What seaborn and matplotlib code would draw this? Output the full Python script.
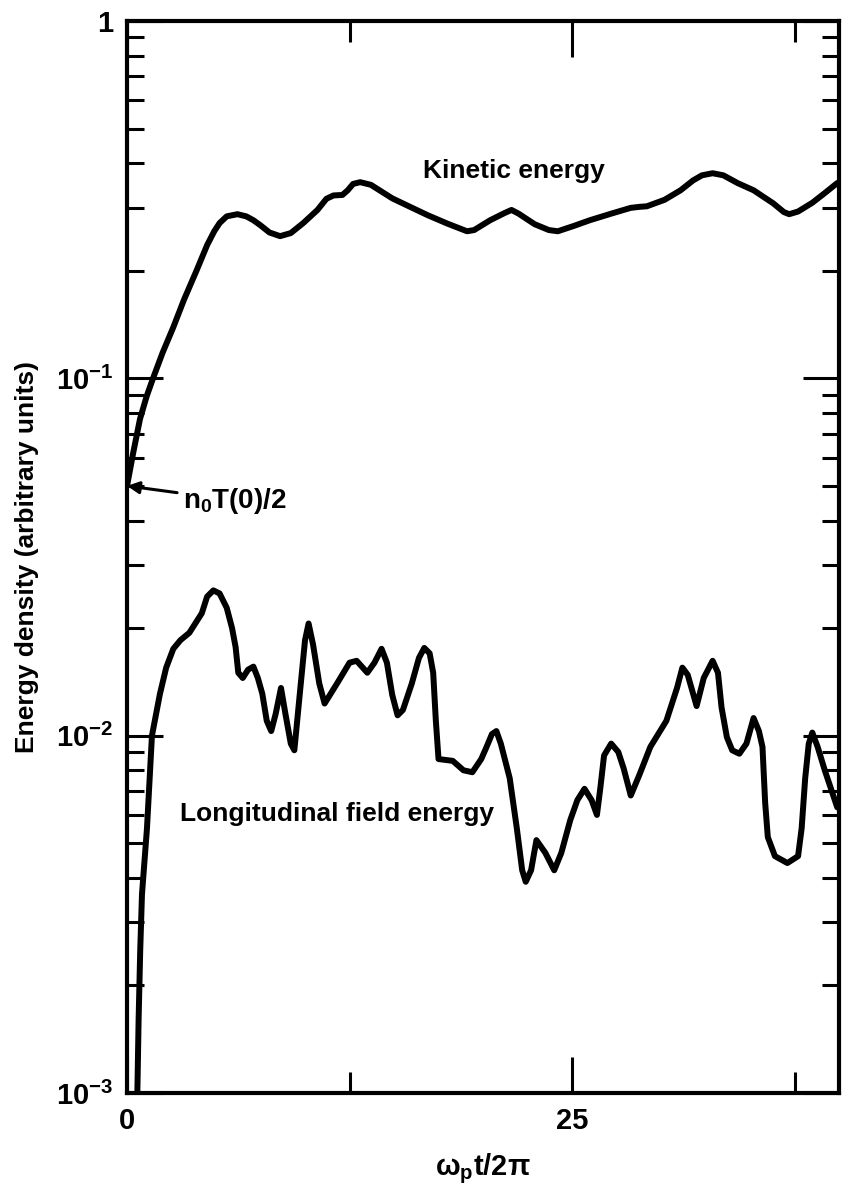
import numpy as np
import pandas as pd
import matplotlib
matplotlib.use("Agg")
import matplotlib.pyplot as plt
import seaborn as sns
from matplotlib.ticker import FixedLocator, NullFormatter, LogLocator

# Kinetic energy density vs. omega_p t / 2 pi
kin_t = [0.0, 0.35, 0.73, 1.1, 1.46, 2.0, 2.6, 3.2, 3.9, 4.5, 4.9, 5.2, 5.6, 6.2,
         6.7, 7.1, 7.5, 8.0, 8.6, 9.2, 9.9, 10.7, 11.2, 11.6, 12.1, 12.4, 12.7,
         13.1, 13.7, 14.9, 15.9, 16.9, 18.0, 19.1, 19.5, 20.4, 21.2, 21.6, 22.0,
         22.9, 23.7, 24.2, 25.1, 26.0, 27.2, 28.3, 28.8, 29.2, 30.2, 31.1, 31.8,
         32.3, 32.9, 33.5, 34.3, 35.2, 36.3, 36.9, 37.2, 37.7, 38.5, 39.2, 39.9]
kin_e = [0.050, 0.062, 0.077, 0.089, 0.100, 0.118, 0.139, 0.166, 0.200, 0.236,
         0.258, 0.272, 0.284, 0.288, 0.284, 0.277, 0.268, 0.256, 0.250, 0.255,
         0.272, 0.296, 0.318, 0.325, 0.326, 0.336, 0.350, 0.354, 0.348, 0.319,
         0.302, 0.286, 0.271, 0.258, 0.260, 0.277, 0.290, 0.296, 0.289, 0.270,
         0.260, 0.258, 0.267, 0.277, 0.289, 0.300, 0.302, 0.303, 0.316, 0.336,
         0.358, 0.370, 0.375, 0.370, 0.352, 0.336, 0.309, 0.292, 0.288, 0.293,
         0.310, 0.330, 0.352]

# Longitudinal field energy density vs. omega_p t / 2 pi
fld_t = [0.50, 0.58, 0.65, 0.74, 0.84, 1.12, 1.4, 1.85, 2.2, 2.6, 3.0, 3.5, 4.2,
         4.5, 4.85, 5.2, 5.6, 5.9, 6.1, 6.25, 6.5, 6.8, 7.1, 7.35, 7.6, 7.85,
         8.1, 8.35, 8.65, 8.9, 9.2, 9.4, 9.7, 10.0, 10.2, 10.45, 10.8, 11.1,
         11.8, 12.5, 12.9, 13.5, 13.9, 14.3, 14.6, 14.9, 15.2, 15.5, 16.0, 16.4,
         16.7, 17.0, 17.2, 17.35, 17.5, 18.3, 18.9, 19.4, 19.9, 20.2, 20.5,
         20.75, 21.0, 21.5, 21.9, 22.2, 22.4, 22.7, 23.0, 23.5, 24.0, 24.4,
         24.9, 25.3, 25.7, 26.1, 26.4, 26.6, 26.8, 27.2, 27.6, 27.9, 28.3,
         28.8, 29.4, 30.3, 30.9, 31.2, 31.5, 32.0, 32.4, 32.9, 33.2, 33.4,
         33.7, 34.0, 34.4, 34.8, 35.2, 35.5, 35.7, 35.85, 36.0, 36.4, 37.1,
         37.7, 37.9, 38.1, 38.3, 38.5, 38.8, 39.2, 39.9]
fld_e = [0.0007, 0.0010, 0.0016, 0.0025, 0.0036, 0.0055, 0.0100, 0.0131, 0.0155,
         0.0175, 0.0185, 0.0194, 0.0220, 0.0245, 0.0255, 0.0250, 0.0228, 0.0200,
         0.0177, 0.0150, 0.0145, 0.0153, 0.0156, 0.0145, 0.0131, 0.0110, 0.0103,
         0.0115, 0.0136, 0.0115, 0.0095, 0.0091, 0.0130, 0.0185, 0.0206, 0.0180,
         0.0140, 0.0123, 0.0140, 0.0160, 0.0162, 0.0150, 0.0160, 0.0175, 0.0160,
         0.0130, 0.0114, 0.0118, 0.0140, 0.0165, 0.0176, 0.0170, 0.0150, 0.0110,
         0.0086, 0.0085, 0.0080, 0.0079, 0.0086, 0.0093, 0.0101, 0.0103, 0.0095,
         0.0076, 0.0055, 0.0042, 0.0039, 0.0042, 0.0051, 0.0047, 0.0042, 0.0047,
         0.0058, 0.0066, 0.0071, 0.0066, 0.0060, 0.0072, 0.0088, 0.0095, 0.0090,
         0.0081, 0.0068, 0.0078, 0.0093, 0.0110, 0.0136, 0.0155, 0.0148, 0.0121,
         0.0145, 0.0162, 0.0150, 0.0120, 0.0099, 0.0091, 0.0089, 0.0095, 0.0112,
         0.0103, 0.0093, 0.0065, 0.0052, 0.0046, 0.0044, 0.0046, 0.0055, 0.0076,
         0.0095, 0.0102, 0.0093, 0.0080, 0.0063]

y_tick_vals = [1e-3, 1e-2, 1e-1, 1]
y_tick_labels = [r"$10^{-3}$", r"$10^{-2}$", r"$10^{-1}$", "1"]
x_major = [0, 25]
x_minor = [12.5, 37.5]

sns.set_theme(style="ticks")
plt.rcParams["font.family"] = ["Liberation Sans", "DejaVu Sans"]
plt.rcParams["font.weight"] = "bold"
plt.rcParams["text.color"] = "black"
plt.rcParams["axes.labelcolor"] = "black"
plt.rcParams["axes.labelweight"] = "bold"
plt.rcParams["mathtext.fontset"] = "custom"
plt.rcParams["mathtext.rm"] = "Liberation Sans:bold"
plt.rcParams["mathtext.it"] = "Liberation Sans:italic:bold"
plt.rcParams["mathtext.bf"] = "Liberation Sans:bold"
plt.rcParams["mathtext.default"] = "rm"

fig = plt.figure(figsize=(8.48, 11.88), dpi=100)
ax = fig.add_axes([0.1498, 0.080, 0.8396, 0.9023])

kin = pd.DataFrame({"t": kin_t, "E": kin_e})
fld = pd.DataFrame({"t": fld_t, "E": fld_e})
line_kw = dict(color="black", linewidth=4.3, sort=False, estimator=None,
               solid_joinstyle="round", solid_capstyle="round")
sns.lineplot(data=kin, x="t", y="E", ax=ax, **line_kw)
sns.lineplot(data=fld, x="t", y="E", ax=ax, **line_kw)

ax.set_yscale("log")
ax.set_ylim(1e-3, 1)
ax.set_xlim(0, 40)

ax.yaxis.set_major_locator(FixedLocator(y_tick_vals))
ax.set_yticklabels(y_tick_labels)
ax.yaxis.set_minor_locator(LogLocator(base=10, subs=np.arange(2, 10)))
ax.yaxis.set_minor_formatter(NullFormatter())
ax.set_xticks(x_major)
ax.set_xticks(x_minor, minor=True)

ax.tick_params(which="both", direction="in", top=True, right=True,
               color="black", labelsize=21, labelcolor="black")
ax.tick_params(which="major", length=26, width=2.2, pad=10)
ax.tick_params(which="minor", length=12, width=2.2)
ax.tick_params(axis="x", which="minor", length=15)

for side in ["left", "right", "top", "bottom"]:
    ax.spines[side].set_visible(True)
    ax.spines[side].set_linewidth(3)
    ax.spines[side].set_color("black")

ax.set_xlabel(r"$\omega_{\rm p}{\rm t}/2\pi$", fontsize=21, labelpad=12)
ax.set_ylabel("Energy density (arbitrary units)", fontsize=19, labelpad=12)

ax.text(16.6, 0.363, "Kinetic energy", fontsize=19, va="baseline", ha="left")
ax.text(2.98, 0.00578, "Longitudinal field energy", fontsize=19,
        va="baseline", ha="left")
ax.annotate(r"n$_0$T(0)/2", xy=(0.0, 0.050), xytext=(3.15, 0.0435),
            fontsize=20, va="baseline", ha="left",
            arrowprops=dict(arrowstyle="-|>", color="black", lw=2.2,
                            mutation_scale=18, shrinkA=2, shrinkB=0))

fig.savefig("out.png", dpi=100)
